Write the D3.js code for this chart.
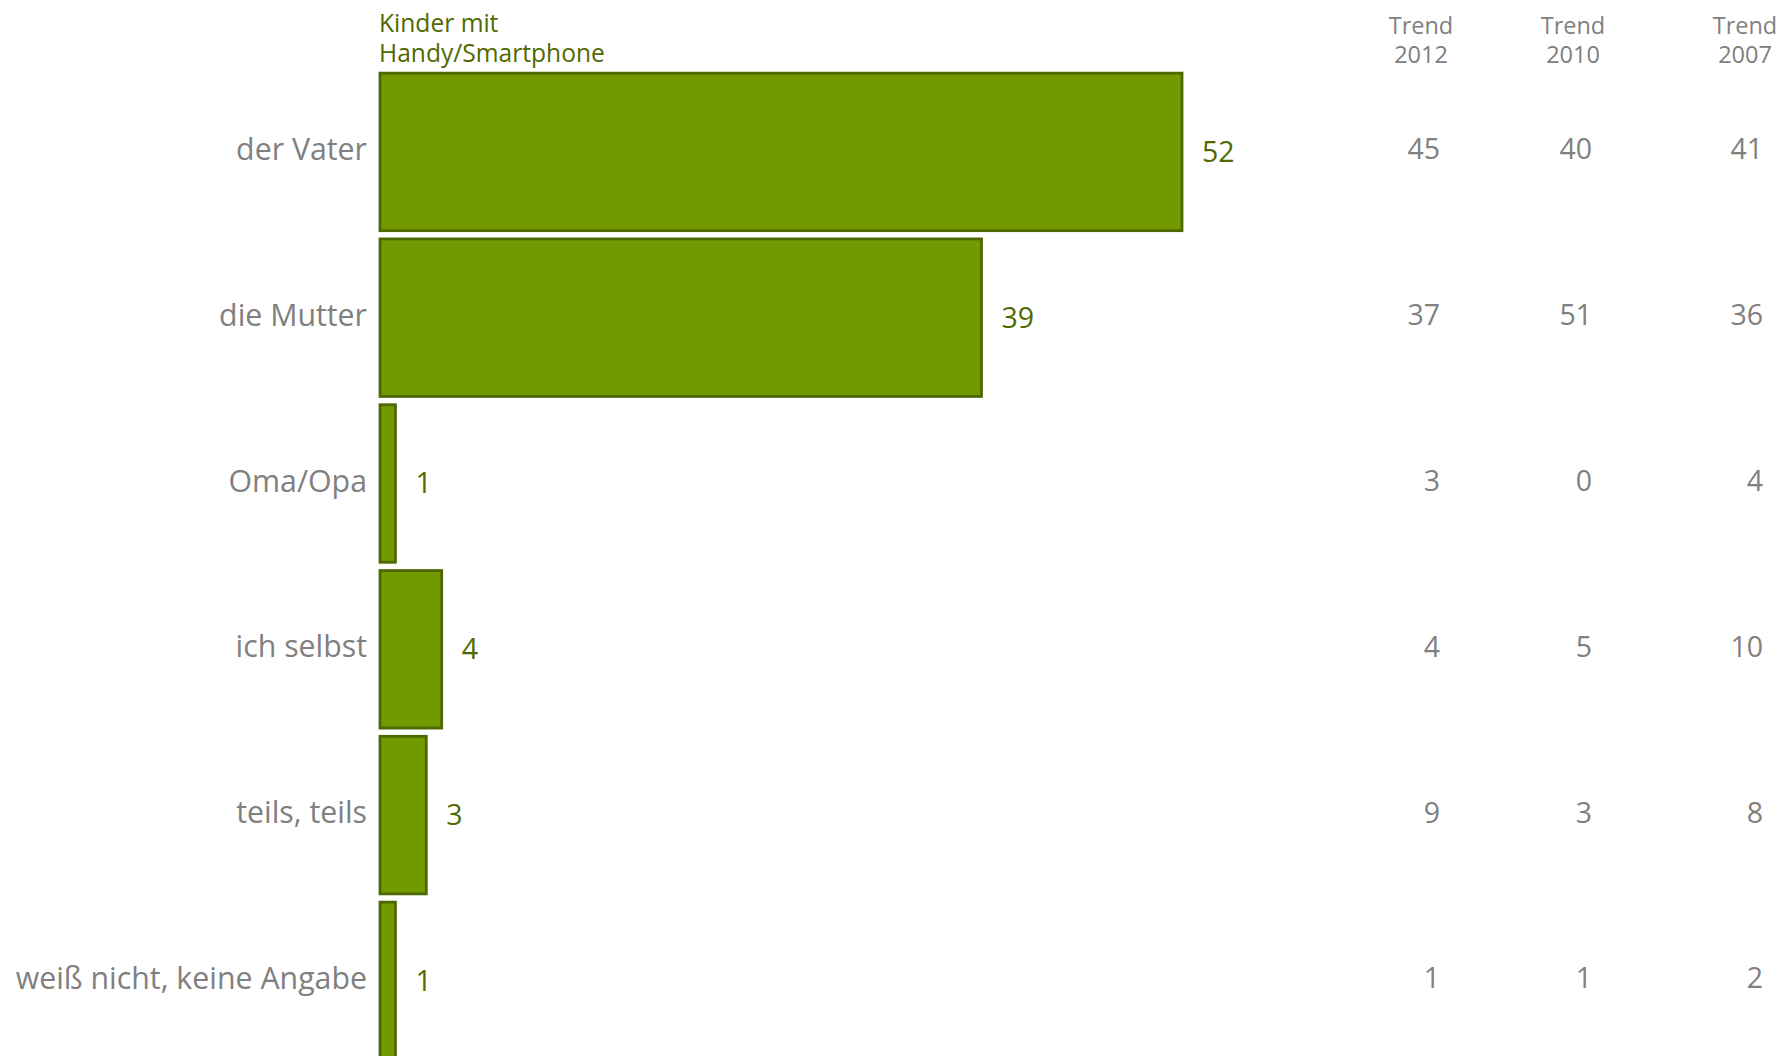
<!DOCTYPE html>
<html>
<head>
<meta charset="utf-8">
<script src="https://cdn.jsdelivr.net/npm/d3@7"></script>
<style>
  html, body { margin: 0; padding: 0; background: #ffffff; }
  svg { display: block; }
  text { font-family: "Open Sans", "Noto Sans", sans-serif; }
</style>
</head>
<body>
<svg id="chart" width="1782" height="1056"></svg>
<script>
// ---- data ----
const categories = ["der Vater", "die Mutter", "Oma/Opa", "ich selbst", "teils, teils", "weiß nicht, keine Angabe"];
const values = [52, 39, 1, 4, 3, 1];
const trend2012 = [45, 37, 3, 4, 9, 1];
const trend2010 = [40, 51, 0, 5, 3, 1];
const trend2007 = [41, 36, 4, 10, 8, 2];
const seriesTitle = ["Kinder mit", "Handy/Smartphone"];
const trendHeaders = [["Trend", "2012"], ["Trend", "2010"], ["Trend", "2007"]];

// ---- layout ----
const svg = d3.select("#chart");
const barLeft = 380;
const x = d3.scaleLinear().domain([0, 52]).range([barLeft, 1182]);
const y = d3.scaleBand().domain(categories).range([69, 69 + 6 * 165.8]).paddingInner(0.05).paddingOuter(0.025);

const fillColor = "#739900";
const strokeColor = "#4d6800";
const greenText = "#4f6a00";
const grayText = "#808080";

// bars
svg.append("g").selectAll("rect")
  .data(categories)
  .join("rect")
  .attr("x", x(0))
  .attr("y", d => y(d))
  .attr("width", (d, i) => x(values[i]) - x(0))
  .attr("height", y.bandwidth())
  .attr("fill", fillColor)
  .attr("stroke", strokeColor)
  .attr("stroke-width", 2.8);

// category labels
svg.append("g").selectAll("text")
  .data(categories)
  .join("text")
  .attr("x", barLeft - 13)
  .attr("y", d => y(d) + y.bandwidth() / 2 - 2.5)
  .attr("dy", "0.35em")
  .attr("text-anchor", "end")
  .attr("fill", grayText)
  .attr("font-size", 30.3)
  .text(d => d);

// value labels
svg.append("g").selectAll("text")
  .data(categories)
  .join("text")
  .attr("x", (d, i) => x(values[i]) + 20)
  .attr("y", d => y(d) + y.bandwidth() / 2)
  .attr("dy", "0.35em")
  .attr("text-anchor", "start")
  .attr("fill", greenText)
  .attr("font-size", 28.5)
  .text((d, i) => values[i]);

// series title
const st = svg.append("text")
  .attr("x", 379)
  .attr("y", 32)
  .attr("fill", greenText)
  .attr("font-size", 24.6);
seriesTitle.forEach((t, i) => st.append("tspan").attr("x", 379).attr("dy", i === 0 ? 0 : 30).text(t));

// trend columns
const trendCols = [trend2012, trend2010, trend2007];
const colRight = [1440, 1592, 1763];
const headerCenter = [1421, 1573, 1745];
trendCols.forEach((col, c) => {
  svg.append("g").selectAll("text")
    .data(categories)
    .join("text")
    .attr("x", colRight[c])
    .attr("y", d => y(d) + y.bandwidth() / 2 - 2.5)
    .attr("dy", "0.35em")
    .attr("text-anchor", "end")
    .attr("fill", grayText)
    .attr("font-size", 28.5)
    .text((d, i) => col[i]);
  const h = svg.append("text")
    .attr("x", headerCenter[c])
    .attr("y", 34)
    .attr("text-anchor", "middle")
    .attr("fill", grayText)
    .attr("font-size", 23.5);
  trendHeaders[c].forEach((t, i) => h.append("tspan").attr("x", headerCenter[c]).attr("dy", i === 0 ? 0 : 29).text(t));
});
</script>
</body>
</html>
